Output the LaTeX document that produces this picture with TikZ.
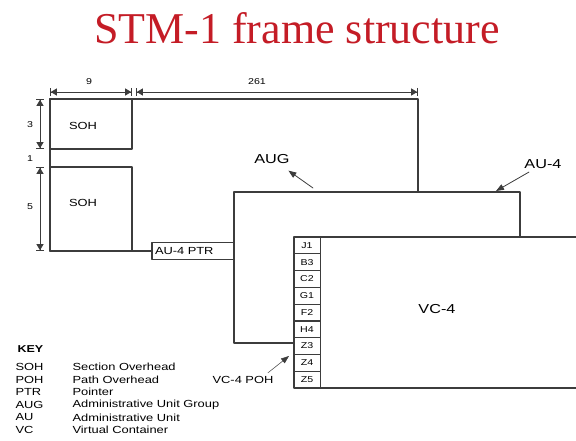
\documentclass[tikz,border=0pt]{standalone}
\usepackage{fontspec}
\setmainfont{Liberation Serif}
\newfontfamily\diafont{Liberation Sans}[FakeStretch=1.25]
\usetikzlibrary{arrows.meta}
\definecolor{titlered}{RGB}{196,28,38}
\definecolor{ink}{RGB}{60,60,60}
\begin{document}
\begin{tikzpicture}[x=1pt,y=-1pt,line cap=round,line join=round,
  font=\diafont\fontsize{10.3}{11}\selectfont,
  frm/.style={draw=ink,line width=1.1pt},
  dim/.style={draw=ink,line width=.8pt,{Bar[width=8pt]Triangle[length=6pt,width=7pt]}-{Triangle[length=6pt,width=7pt]Bar[width=8pt]}},
  ptr/.style={draw=ink,line width=.8pt,-{Triangle[length=8pt,width=6pt]}},
  big/.style={font=\diafont\fontsize{13}{15}\selectfont},
  small/.style={font=\diafont\fontsize{8.5}{9}\selectfont},
  cell/.style={draw=ink,line width=.8pt,minimum width=26pt,minimum height=16.8pt,inner sep=0pt,small}]
\useasboundingbox (0,0) rectangle (576,441);
\node[anchor=base,text=titlered,font=\fontsize{44}{48}\selectfont] (title) at (297,44) {STM-1 frame structure};
% STM-1 frame with the two SOH blocks
\node[frm,minimum width=82pt,minimum height=17pt,text width=76pt,inner xsep=3pt,inner ysep=0pt,align=left] (ptr) at (193,251) {AU-4 PTR};
\draw[frm] (418,192) -- (418,99) -- (50,99) -- (50,251) -- (ptr.west);
\draw[frm] (50,99) rectangle (132,149);
\draw[frm] (50,167) rectangle (132,251);
\node (soh1) at (83,126) {SOH};
\node (soh2) at (83,203) {SOH};
% AU-4 and VC-4
\draw[frm] (294,343) -- (234,343) -- (234,192) -- (520,192) -- (520,237);
\draw[frm] (576,237) -- (294,237) -- (294,388) -- (576,388);
\foreach \t [count=\i] in {J1,B3,C2,G1,F2,H4,Z3,Z4,Z5}
  \node[cell] (p\i) at (307,{237+16.78*\i-8.39}) {\t};
\node[big] (vc) at (437,309) {VC-4};
\node[big] (aug) at (272,159) {AUG};
\node[big] (au) at (543,164) {AU-4};
\node (vcpoh) at (243,380) {VC-4 POH};
\coordinate (augtail) at (313,188);
\coordinate (autip) at (496,191);
\coordinate (pohtip) at (289,356);
\draw[ptr,shorten >=6pt] (augtail) -- (aug);
\draw[ptr] (au) -- (autip);
\draw[ptr,line width=.5pt] ([xshift=-9pt]vcpoh.north east) -- (pohtip);
% dimensions
\draw[dim] (50,92) -- (132,92);
\draw[dim] (136,92) -- (418,92);
\draw[dim] (40,99) -- (40,149);
\draw[dim] (40,167) -- (40,251);
\node[small] (d9) at (89,82) {9};
\node[small] (d261) at (257,82) {261};
\node[small] (d3) at (30,125) {3};
\node[small] (d1) at (30,159) {1};
\node[small] (d5) at (30,207) {5};
% key
\node[font=\diafont\bfseries\fontsize{10}{11}\selectfont,anchor=west] (key) at (14,349) {KEY};
\foreach \a/\b [count=\i] in {SOH/Section Overhead,POH/Path Overhead,PTR/Pointer,AUG/Administrative Unit Group,AU/Administrative Unit,VC/Virtual Container}{
  \node[anchor=west] (ka\i) at (12,{354.4+12.6*\i}) {\a};
  \node[anchor=west] (kb\i) at (69,{354.4+12.6*\i}) {\b};}
\end{tikzpicture}
\end{document}
